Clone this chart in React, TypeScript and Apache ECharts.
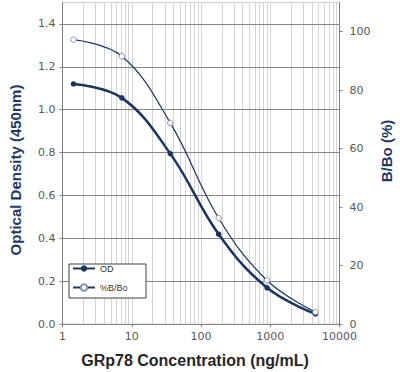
import React, { useEffect, useRef } from "react";
import * as echarts from "echarts";

const concentrations = [1.44, 7.2, 36, 180, 900, 4500];
const odValues = [1.12, 1.055, 0.795, 0.419, 0.169, 0.047];
const bboValues = [97.3, 91.6, 68.8, 36.2, 14.9, 4.1];
const leftTicks = [0, 0.2, 0.4, 0.6, 0.8, 1.0, 1.2, 1.4];
const rightTicks = [0, 20, 40, 60, 80, 100];
const decades = [1, 10, 100, 1000];
const minorMultipliers = [2, 3, 4, 5, 6, 7, 8, 9];

const minorGrid: number[] = [];
decades.forEach((d) => minorMultipliers.forEach((m) => minorGrid.push(d * m)));

const NAVY = "#1c3461";
const TICK_FONT = { color: "#595959", fontSize: 11, fontFamily: "DejaVu Sans" };

export default function App() {
  const ref = useRef<HTMLDivElement>(null);
  useEffect(() => {
    document.body.style.margin = "0";
    if (!ref.current) return;
    const chart = echarts.init(ref.current, null, { renderer: "svg" });
    chart.setOption({
      animation: false,
      grid: {
        left: 62.5,
        right: 60.5,
        top: 2.5,
        bottom: 48,
        show: true,
        borderColor: "#d0d0d0",
        borderWidth: 1,
      },
      legend: {
        left: 72,
        top: 264,
        orient: "vertical",
        itemWidth: 22,
        itemHeight: 8,
        itemGap: 10,
        padding: 0,
        textStyle: { fontSize: 9, fontFamily: "Liberation Sans", color: "#333" },
        data: ["OD", "%B/Bo"],
      },
      xAxis: {
        type: "log",
        logBase: 10,
        min: 1,
        max: 10000,
        axisLine: { lineStyle: { color: "#808080" } },
        axisTick: { show: true, length: 3, lineStyle: { color: "#808080" } },
        axisLabel: { ...TICK_FONT, margin: 7, formatter: (v: number) => String(v) },
        splitLine: { show: true, lineStyle: { color: "#d4d4d4", width: 1 } },
      },
      yAxis: [
        {
          type: "value",
          min: 0,
          max: 1.5,
          position: "left",
          z: 1.5,
          axisLine: { show: true, lineStyle: { color: "#808080" } },
          axisTick: { show: true, length: 3, customValues: leftTicks, lineStyle: { color: "#808080" } },
          axisLabel: {
            ...TICK_FONT,
            margin: 7,
            customValues: leftTicks,
            formatter: (v: number) => v.toFixed(1),
          },
          splitLine: { show: true, lineStyle: { color: "#868686", width: 1 } },
        },
        {
          type: "value",
          min: 0,
          max: 110,
          position: "right",
          axisLine: { show: true, lineStyle: { color: "#808080" } },
          axisTick: { show: true, length: 3, customValues: rightTicks, lineStyle: { color: "#808080" } },
          axisLabel: { ...TICK_FONT, margin: 10, customValues: rightTicks },
          splitLine: { show: false },
        },
      ],
      series: [
        {
          name: "OD",
          type: "line",
          yAxisIndex: 0,
          smooth: 0.4,
          symbol: "circle",
          symbolSize: 5.5,
          lineStyle: { color: NAVY, width: 2.5 },
          itemStyle: { color: NAVY },
          data: concentrations.map((c, i) => [c, odValues[i]]),
          z: 3,
          markLine: {
            silent: true,
            z: 1,
            symbol: ["none", "none"],
            label: { show: false },
            lineStyle: { color: "#d4d4d4", width: 1, type: "solid" },
            data: minorGrid.map((v) => ({ xAxis: v })),
          },
        },
        {
          name: "%B/Bo",
          type: "line",
          yAxisIndex: 1,
          smooth: 0.4,
          symbol: "circle",
          symbolSize: 5.5,
          lineStyle: { color: NAVY, width: 1.2 },
          itemStyle: { color: "#ffffff", borderColor: "#7f93b5", borderWidth: 1 },
          data: concentrations.map((c, i) => [c, bboValues[i]]),
          z: 3,
        },
      ],
      graphic: [
        {
          type: "rect",
          z: 3,
          shape: { x: 69, y: 264, width: 77, height: 34 },
          style: { fill: "#ffffff", stroke: "#404040", lineWidth: 1 },
        },
        {
          type: "text",
          x: 15,
          y: 170,
          rotation: Math.PI / 2,
          style: {
            text: "Optical Density (450nm)",
            font: "bold 15px Liberation Sans",
            fill: "#1f3864",
            align: "center",
            verticalAlign: "middle",
          },
        },
        {
          type: "text",
          x: 386.5,
          y: 151,
          rotation: Math.PI / 2,
          style: {
            text: "B/Bo (%)",
            font: "bold 15px Liberation Sans",
            fill: "#1f3864",
            align: "center",
            verticalAlign: "middle",
          },
        },
        {
          type: "text",
          x: 195,
          y: 360,
          style: {
            text: "GRp78 Concentration (ng/mL)",
            font: "bold 16px Liberation Sans",
            fill: "#262626",
            align: "center",
            verticalAlign: "middle",
          },
        },
      ],
    });
    return () => chart.dispose();
  }, []);
  return <div ref={ref} style={{ width: 400, height: 372 }} />;
}
